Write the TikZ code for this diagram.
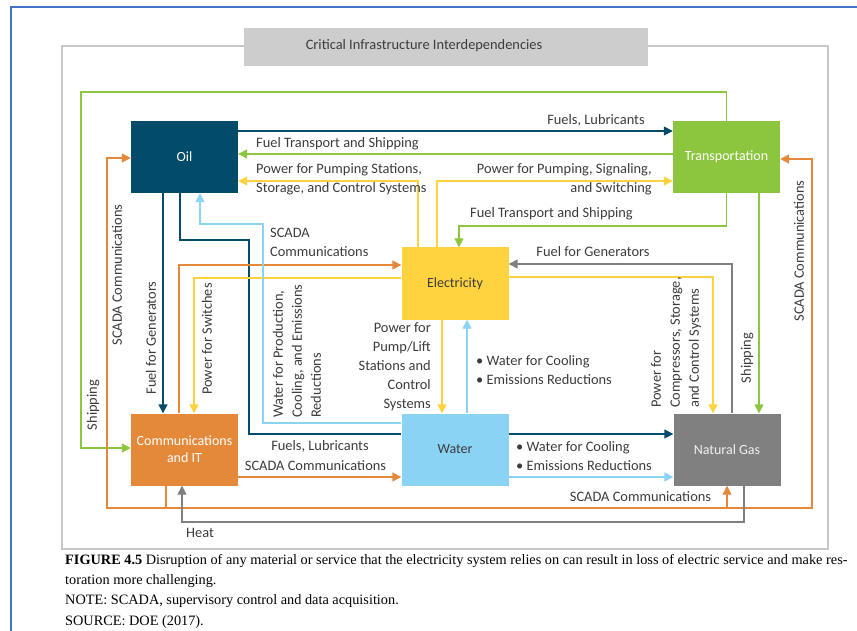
\documentclass[tikz,border=0pt]{standalone}
\usepackage{fontspec}
\setmainfont{Carlito}
\newfontfamily\serifcap{Liberation Serif}
\usetikzlibrary{arrows.meta}

\definecolor{petroleo}{HTML}{034B6A}
\definecolor{verde}{HTML}{8CC63F}
\definecolor{amarillo}{HTML}{FFD23F}
\definecolor{naranja}{HTML}{E4893A}
\definecolor{celeste}{HTML}{8AD3F5}
\definecolor{gris}{HTML}{808080}
\definecolor{textogris}{HTML}{3C3C3C}
\definecolor{marco}{HTML}{C8C8C8}
\definecolor{marcoazul}{HTML}{4472C4}

\tikzset{
  caja/.style={minimum width=107pt, minimum height=72pt, inner sep=0pt, align=center, font=\fontsize{14}{17}\selectfont},
  linea/.style={line width=1.4pt},
  flecha/.style={line width=1.4pt, -{Triangle[length=9pt,width=9pt]}},
  etiqueta/.style={text=textogris, font=\fontsize{14.4}{19}\selectfont, inner sep=0pt},
  leyenda/.style={anchor=west, inner sep=0pt, font=\serifcap\fontsize{14.3}{17}\selectfont},
}

\begin{document}
\begin{tikzpicture}[x=1pt,y=-1pt]

		% Marco de la pagina
		\useasboundingbox (0,0) rectangle (857,631);
		\fill[white] (0,0) rectangle (857,631);
		\draw[marcoazul, line width=1.2pt] (11,631) -- (11,7) -- (857,7); % Borde azul
		\draw[marco, line width=1.2pt] (244,46) -- (62,46) -- (62,549) -- (828,549) -- (828,46) -- (648,46);

		% Titulo
		\node[fill=marco!90!white, minimum width=404pt, minimum height=38pt, inner sep=0pt] (titulo) at (446,47) {};
		\node[text=textogris, font=\fontsize{14.4}{17}\selectfont, inner sep=0pt] (titulotexto) at (424,46) {Critical Infrastructure Interdependencies};

		% Sectores
		\node[caja, fill=petroleo, text=white] (oil) at (184.5,157) {Oil};
		\node[caja, fill=verde, text=white] (trans) at (726.5,157) {Transportation};
		\node[caja, fill=amarillo, text=textogris] (elec) at (455,283.5) {Electricity};
		\node[caja, fill=naranja, text=white] (comm) at (184.5,449.5) {Communications\\and IT};
		\node[caja, fill=celeste, text=textogris] (agua) at (455,449.5) {Water};
		\node[caja, fill=gris, text=white!88!gray] (gas) at (727,449.5) {Natural Gas};

		% Petroleo
		\draw[flecha, petroleo] (oil.east |- 0,131) -- (trans.west |- 0,131);
		\draw[flecha, petroleo] (oil.south -| 163,0) -- (comm.north -| 163,0);
		\draw[linea, petroleo] (oil.south -| 180,0) |- (249,240) |- (agua.west |- 0,434);
		\draw[flecha, petroleo] (agua.east |- 0,434) -- (gas.west |- 0,434);

		% Transporte
		\draw[flecha, verde] (trans.west |- 0,154) -- (oil.east |- 0,154);
		\draw[flecha, verde] (trans.south) |- (459,226) -- (elec.north -| 459,0);
		\draw[flecha, verde] (trans.north) |- (81,92) |- (comm.west |- 0,448);
		\draw[flecha, verde] (trans.south -| 759,0) -- (gas.north -| 759,0);

		% Electricidad
		\draw[flecha, amarillo] (elec.north -| 418,0) |- (oil.east |- 0,181);
		\draw[flecha, amarillo] (elec.north -| 437,0) |- (trans.west |- 0,181);
		\draw[flecha, amarillo] (elec.east |- 0,277) -| (gas.north -| 713,0);
		\draw[flecha, amarillo] (elec.west |- 0,278) -| (comm.north -| 194,0);
		\draw[flecha, amarillo] (elec.south -| 442,0) -- (agua.north -| 442,0);

		% Comunicaciones
		\draw[linea, naranja] (comm.south -| 166,0) -- (166,508);
		\draw[flecha, naranja] (166,508) -- (107,508) |- (oil.west |- 0,158);
		\draw[flecha, naranja] (166,508) -- (812,508) |- (trans.east |- 0,159);
		\draw[flecha, naranja] (gas.south |- 0,508) -- (gas.south);
		\draw[flecha, naranja] (comm.north -| 179,0) |- (elec.west |- 0,265);
		\draw[flecha, naranja] (comm.east |- 0,477) -- (agua.west |- 0,477);

		% Agua
		\draw[flecha, celeste] (agua.west |- 0,423) -| (263,224) -| (oil.south -| 200,0);
		\draw[flecha, celeste] (agua.north -| 467,0) -- (elec.south -| 467,0);
		\draw[flecha, celeste] (agua.east |- 0,477) -- (gas.west |- 0,477);

		% Gas natural
		\draw[flecha, gris] (gas.south -| 744,0) |- (182,522) -- (comm.south -| 182,0);
		\draw[flecha, gris] (gas.north -| 732,0) |- (elec.east |- 0,264);

		% Etiquetas horizontales
		\node[etiqueta] (l1) at (596,120) {Fuels, Lubricants};
		\node[etiqueta, anchor=west] (l2) at (256,144) {Fuel Transport and Shipping};
		\node[etiqueta, anchor=west, align=left] (l3) at (256,179.5) {Power for Pumping Stations,\\Storage, and Control Systems};
		\node[etiqueta, anchor=east, align=right] (l4) at (652,179.5) {Power for Pumping, Signaling,\\and Switching};
		\node[etiqueta, anchor=west] (l5) at (470,214) {Fuel Transport and Shipping};
		\node[etiqueta] (l6) at (593,252) {Fuel for Generators};
		\node[etiqueta, anchor=west, align=left] (l7) at (270,242) {SCADA\\Communications};
		\node[etiqueta, anchor=east, align=right] (l8) at (431,367) {Power for\\Pump/Lift\\Stations and\\Control\\Systems};
		\node[etiqueta, anchor=west, align=left] (l9) at (476,370) {\textbullet\ Water for Cooling\\\textbullet\ Emissions Reductions};
		\node[etiqueta, anchor=west, align=left] (l10) at (516,456.5) {\textbullet\ Water for Cooling\\\textbullet\ Emissions Reductions};
		\node[etiqueta] (l11) at (320,446) {Fuels, Lubricants};
		\node[etiqueta] (l12) at (315.5,466) {SCADA Communications};
		\node[etiqueta] (l13) at (640.5,497) {SCADA Communications};
		\node[etiqueta] (l14) at (200,533) {Heat};

		% Etiquetas verticales
		\node[etiqueta, rotate=90] (l15) at (93,405) {Shipping};
		\node[etiqueta, rotate=90] (l16) at (117,275) {SCADA Communications};
		\node[etiqueta, rotate=90] (l17) at (151,338) {Fuel for Generators};
		\node[etiqueta, rotate=90] (l18) at (207,339) {Power for Switches};
		\node[etiqueta, rotate=90, anchor=west, align=left] (l19) at (297,418) {Water for Production,\\Cooling, and Emissions\\Reductions};
		\node[etiqueta, rotate=90, anchor=west, align=left] (l20) at (676,408) {Power for\\Compressors, Storage,\\and Control Systems};
		\node[etiqueta, rotate=90] (l21) at (747,358) {Shipping};
		\node[etiqueta, rotate=90] (l22) at (799,251) {SCADA Communications};

		% Leyenda de la figura
		\node[leyenda] (cap1) at (65,561) {\textbf{FIGURE 4.5} Disruption of any material or service that the electricity system relies on can result in loss of electric service and make res-};
		\node[leyenda] (cap2) at (65,581) {toration more challenging.};
		\node[leyenda] (cap3) at (65,601) {NOTE: SCADA, supervisory control and data acquisition.};
		\node[leyenda] (cap4) at (65,622) {SOURCE: DOE (2017).};

	\end{tikzpicture}
\end{document}
